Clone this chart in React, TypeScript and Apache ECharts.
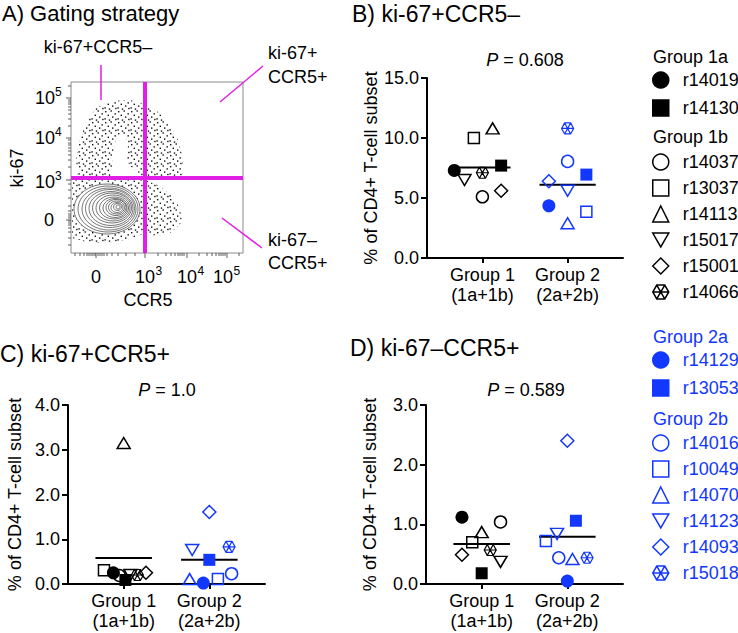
import React, { useEffect, useRef } from "react";
import * as echarts from "echarts";

const FONT = '"Liberation Sans", Arial, Helvetica, sans-serif';
const BLACK = "#000000";
const BLUE = "#1237ff";
const MAGENTA = "#e11ee6";

// Subjects (legend order)
const subjects = [
  "r14019", "r14130", "r14037", "r13037", "r14113", "r15017", "r15001", "r14066",
  "r14129", "r13053", "r14016", "r10049", "r14070", "r14123", "r14093", "r15018",
];
const subjectMarker = [
  "filledCircle", "filledSquare", "circle", "square", "triangle", "downTriangle", "diamond", "hexStar",
  "filledCircle", "filledSquare", "circle", "square", "triangle", "downTriangle", "diamond", "hexStar",
];
const group1a = ["r14019", "r14130"];
const group1b = ["r14037", "r13037", "r14113", "r15017", "r15001", "r14066"];
const group2a = ["r14129", "r13053"];
const group2b = ["r14016", "r10049", "r14070", "r14123", "r14093", "r15018"];

const groupCenters = [1, 2];
const groupLabels = ["Group 1\n(1a+1b)", "Group 2\n(2a+2b)"];

// Panel B: ki-67+CCR5-
const panelBValues = [7.3, 7.7, 5.1, 10.0, 10.8, 6.5, 5.6, 7.1, 4.35, 6.95, 8.05, 3.85, 2.9, 5.6, 6.4, 10.8];
const panelBJitter = [-0.33, 0.22, 0, -0.1, 0.12, -0.21, 0.22, 0, -0.22, 0.22, 0, 0.22, 0, 0, -0.22, 0];
const panelBMeans = [7.55, 6.1];

// Panel C: ki-67+CCR5+
const panelCValues = [0.25, 0.09, 0.19, 0.31, 3.15, 0.2, 0.25, 0.2, 0.02, 0.54, 0.23, 0.11, 0.11, 0.76, 1.61, 0.83];
const panelCJitter = [-0.12, 0.02, -0.05, -0.23, 0, 0.08, 0.26, 0.16, -0.07, 0, 0.26, 0.1, -0.23, -0.2, 0, 0.23];
const panelCMeans = [0.58, 0.54];

// Panel D: ki-67-CCR5+
const panelDValues = [1.12, 0.18, 1.04, 0.7, 0.87, 0.37, 0.49, 0.57, 0.05, 1.06, 0.44, 0.72, 0.42, 0.84, 2.4, 0.44];
const panelDJitter = [-0.23, 0, 0.22, -0.11, 0, 0.22, -0.23, 0.1, 0, 0.1, -0.1, -0.25, 0.06, -0.12, 0, 0.23];
const panelDMeans = [0.67, 0.79];

const pValues = ["0.608", "1.0", "0.589"];
const yMaxes = [15, 4, 3];
const yIntervals = [5, 1, 1];

const HEX_STAR = "path://M20,10L15,18.66L5,18.66L0,10L5,1.34L15,1.34ZM0,10L20,10M5,1.34L15,18.66M15,1.34L5,18.66";
const DOWN_TRI = "path://M0,0L20,0L10,17.32Z";

const markers: Record<string, { symbol: string; size: number | number[]; filled: boolean; bw: number }> = {
  filledCircle: { symbol: "circle", size: 13, filled: true, bw: 0 },
  filledSquare: { symbol: "rect", size: 12, filled: true, bw: 0 },
  circle: { symbol: "circle", size: 12, filled: false, bw: 1.5 },
  square: { symbol: "rect", size: 11, filled: false, bw: 1.5 },
  triangle: { symbol: "triangle", size: [13, 11], filled: false, bw: 1.5 },
  downTriangle: { symbol: DOWN_TRI, size: [13, 11], filled: false, bw: 1.5 },
  diamond: { symbol: "diamond", size: [13, 13], filled: false, bw: 1.5 },
  hexStar: { symbol: HEX_STAR, size: [12, 11], filled: false, bw: 1.2 },
};

const STIPPLE =
  "data:image/svg+xml;charset=utf-8," +
  encodeURIComponent(
    "<svg xmlns='http://www.w3.org/2000/svg' width='13' height='11'>" +
      "<rect x='1' y='1' width='1.4' height='1.4' fill='#111'/>" +
      "<rect x='6.5' y='0.3' width='1.4' height='1.4' fill='#111'/>" +
      "<rect x='10.5' y='3.2' width='1.4' height='1.4' fill='#111'/>" +
      "<rect x='3.6' y='4.6' width='1.4' height='1.4' fill='#111'/>" +
      "<rect x='8' y='6.4' width='1.4' height='1.4' fill='#111'/>" +
      "<rect x='0.4' y='8.2' width='1.4' height='1.4' fill='#111'/>" +
      "<rect x='11.2' y='8.8' width='1.4' height='1.4' fill='#111'/>" +
      "<rect x='4.8' y='9.4' width='1.4' height='1.4' fill='#111'/>" +
      "</svg>"
  );

function txt(x: number, y: number, text: string, o: any = {}) {
  return {
    type: "text",
    x,
    y,
    rotation: o.rot || 0,
    silent: true,
    z: 50,
    style: {
      text,
      fontFamily: FONT,
      fontSize: o.size || 18,
      fill: o.color || BLACK,
      align: o.align || "left",
      verticalAlign: o.va || "middle",
      fontStyle: o.italic ? "italic" : "normal",
      rich: o.rich,
    },
  };
}

function pow10(x: number, y: number, exp: string, anchor: "center" | "right") {
  const els: any[] = [];
  if (anchor === "center") {
    els.push(txt(x, y, "10", { align: "center" }));
    els.push(txt(x + 10.5, y - 6, exp, { size: 12, align: "left" }));
  } else {
    els.push(txt(x - 7, y, "10", { align: "right" }));
    els.push(txt(x - 7, y - 6, exp, { size: 12, align: "left" }));
  }
  return els;
}

function line(x1: number, y1: number, x2: number, y2: number, stroke: string, lw: number) {
  return { type: "line", silent: true, z: 40, shape: { x1, y1, x2, y2 }, style: { stroke, lineWidth: lw } };
}

// Contour levels for the density plot in panel A (cx, cy, rx, ry)
const contourLevels = [
  [107, 209, 33, 25], [108, 209, 30, 23], [109, 209, 27, 21], [110, 208.5, 24.5, 19],
  [111, 208.5, 22, 17], [112, 208, 19.5, 15], [113, 208, 17, 13], [114, 208, 14.5, 11],
  [115, 208, 12, 9.5], [116, 207.5, 10, 8], [116.5, 207.5, 8, 6.5], [117, 207.5, 6, 5],
  [117.5, 207, 4, 3.5], [118, 207, 2, 2],
];

function panelA(): any[] {
  const els: any[] = [];
  const stip = { image: STIPPLE, repeat: "repeat", imageWidth: 13, imageHeight: 11 };
  const poly = (pts: number[][], fill: any) => ({ type: "polygon", silent: true, z: 10, shape: { points: pts }, style: { fill, stroke: null } });
  els.push(poly([[78, 178], [76, 160], [80, 140], [86, 122], [96, 108], [112, 101], [130, 100], [145, 104], [158, 112], [170, 124], [178, 140], [183, 158], [182, 178]], stip));
  els.push(poly([[112, 178], [112, 162], [114, 148], [116, 138], [121, 133], [126, 136], [128, 146], [126, 158], [130, 166], [138, 172], [142, 178]], "#ffffff"));
  els.push(poly([[72, 180], [72, 238], [90, 243], [115, 242], [135, 238], [146, 232], [146, 180]], stip));
  els.push(poly([[145, 180], [160, 186], [172, 196], [180, 208], [182, 222], [172, 232], [158, 236], [145, 234]], stip));
  contourLevels.forEach((c, i) => {
    els.push({ type: "ellipse", silent: true, z: 12, shape: { cx: c[0], cy: c[1], rx: c[2], ry: c[3] }, style: { fill: i === 0 ? "#ffffff" : "none", stroke: "#3a3a3a", lineWidth: 0.7 } });
  });
  els.push({ type: "rect", silent: true, z: 20, shape: { x: 71, y: 82, width: 172, height: 171 }, style: { fill: "none", stroke: "#8a8a8a", lineWidth: 1 } });
  const bt = [75, 80, 84, 87, 89, 91, 93, 95, 96, 98, 100, 102, 104, 107, 112, 118, 126, 135, 145, 158, 166, 171, 175, 178, 180, 182, 184, 187, 199, 207, 212, 216, 219, 221, 223, 225, 227, 239];
  bt.forEach((x) => {
    const major = x === 96 || x === 145 || x === 187 || x === 227;
    els.push(line(x, 253, x, 253 + (major ? 5 : 3), "#333", 0.8));
  });
  const lt = [245, 238, 232, 228, 225, 223, 221, 220, 218, 216, 214, 211, 206, 198, 190, 184, 180, 167, 160, 155, 151, 148, 145, 143, 140, 138, 126, 119, 114, 110, 107, 104, 102, 100, 98, 86];
  lt.forEach((y) => {
    const major = y === 98 || y === 138 || y === 180 || y === 220;
    els.push(line(71, y, 71 - (major ? 5 : 3), y, "#333", 0.8));
  });
  els.push(line(145, 82, 145, 253, MAGENTA, 4));
  els.push(line(71, 178, 243, 178, MAGENTA, 4));
  els.push(line(101, 65, 101, 100, MAGENTA, 1.5));
  els.push(line(220, 102, 263, 66, MAGENTA, 1.5));
  els.push(line(222, 218, 262, 248, MAGENTA, 1.5));
  els.push(txt(98, 47, "ki-67+CCR5\u2013", { align: "center" }));
  els.push(txt(268, 53, "ki-67+"));
  els.push(txt(268, 77, "CCR5+"));
  els.push(txt(268, 240, "ki-67\u2013"));
  els.push(txt(268, 263, "CCR5+"));
  els.push(...pow10(62, 98, "5", "right"));
  els.push(...pow10(62, 138, "4", "right"));
  els.push(...pow10(62, 182, "3", "right"));
  els.push(txt(54, 220, "0", { align: "right" }));
  els.push(txt(96, 277, "0", { align: "center" }));
  els.push(...pow10(145, 277, "3", "center"));
  els.push(...pow10(187, 277, "4", "center"));
  els.push(...pow10(223, 277, "5", "center"));
  els.push(txt(148, 300, "CCR5", { align: "center" }));
  els.push(txt(17, 168, "ki-67", { align: "center", rot: Math.PI / 2 }));
  return els;
}

const App: React.FC = () => {
  const ref = useRef<HTMLDivElement>(null);
  useEffect(() => {
    if (!ref.current) return;
    const chart = echarts.init(ref.current, null, { renderer: "svg" });

    const panels = [
      { values: panelBValues, jitter: panelBJitter, means: panelBMeans },
      { values: panelCValues, jitter: panelCJitter, means: panelCMeans },
      { values: panelDValues, jitter: panelDJitter, means: panelDMeans },
    ];
    const grids = [
      { left: 427, top: 78, width: 196, height: 180 },
      { left: 68, top: 405, width: 197, height: 179 },
      { left: 426, top: 405, width: 197, height: 179 },
    ];

    const series: any[] = [];
    panels.forEach((p, pi) => {
      p.means.forEach((mean, g) => {
        series.push({
          type: "line",
          name: "mean" + pi + g,
          xAxisIndex: pi,
          yAxisIndex: pi,
          data: [[groupCenters[g] - 0.33, mean], [groupCenters[g] + 0.33, mean]],
          symbol: "none",
          lineStyle: { color: BLACK, width: 2 },
          z: 2,
          silent: true,
        });
      });
      subjects.forEach((s, si) => {
        const g = si < 8 ? 0 : 1;
        const m = markers[subjectMarker[si]];
        const color = si < 8 ? BLACK : BLUE;
        series.push({
          type: "scatter",
          name: s,
          xAxisIndex: pi,
          yAxisIndex: pi,
          data: [[groupCenters[g] + p.jitter[si], p.values[si]]],
          symbol: m.symbol,
          symbolSize: m.size,
          symbolKeepAspect: false,
          itemStyle: m.filled
            ? { color, borderColor: color, borderWidth: 0, opacity: 1 }
            : { color: "rgba(255,255,255,0)", borderColor: color, borderWidth: m.bw, opacity: 1 },
          z: 3,
          silent: true,
        });
      });
    });

    const xAxes = grids.map((_, i) => ({
      type: "value",
      gridIndex: i,
      min: 0.35,
      max: 2.65,
      splitLine: { show: false },
      axisLine: { show: true, onZero: false, lineStyle: { color: BLACK, width: 2 } },
      axisTick: { show: true, customValues: groupCenters, length: 5, lineStyle: { color: BLACK, width: 2 } },
      axisLabel: {
        show: true,
        customValues: groupCenters,
        formatter: (v: number) => groupLabels[Math.round(v) - 1] || "",
        fontSize: 18,
        lineHeight: 20,
        color: BLACK,
        fontFamily: FONT,
        margin: 7,
      },
    }));
    const yAxes = grids.map((_, i) => ({
      type: "value",
      gridIndex: i,
      min: 0,
      max: yMaxes[i],
      interval: yIntervals[i],
      splitLine: { show: false },
      axisLine: { show: true, lineStyle: { color: BLACK, width: 2 } },
      axisTick: { show: true, length: 6, lineStyle: { color: BLACK, width: 2 } },
      axisLabel: { fontSize: 18, color: BLACK, fontFamily: FONT, margin: 8, formatter: (v: number) => v.toFixed(1) },
      name: "% of CD4+ T-cell subset",
      nameLocation: "middle",
      nameGap: i === 1 ? 44 : 47,
      nameTextStyle: { fontSize: 18, color: BLACK, fontFamily: FONT },
    }));

    const legendBase = {
      orient: "vertical",
      itemWidth: 16,
      itemHeight: 16,
      padding: 0,
      selectedMode: false,
      itemStyle: { borderWidth: 1.5 },
    };
    const lt = (color: string) => ({ fontSize: 18, lineHeight: 18, color, fontFamily: FONT, padding: [0, 0, 0, 9] });
    const legends = [
      { ...legendBase, data: group1a, left: 652, top: 71, itemGap: 10, textStyle: lt(BLACK) },
      { ...legendBase, data: group1b, left: 652, top: 153, itemGap: 8, textStyle: lt(BLACK) },
      { ...legendBase, data: group2a, left: 652, top: 351, itemGap: 10, textStyle: lt(BLUE) },
      { ...legendBase, data: group2b, left: 652, top: 434, itemGap: 8, textStyle: lt(BLUE) },
    ];

    const pRich = { i: { fontStyle: "italic", fontSize: 18, fontFamily: FONT, fill: BLACK } };
    const graphics: any[] = [
      ...panelA(),
      txt(2, 13, "A) Gating strategy", { size: 22 }),
      txt(352, 14, "B) ki-67+CCR5\u2013", { size: 23 }),
      txt(0, 354, "C) ki-67+CCR5+", { size: 23 }),
      txt(350, 348, "D) ki-67\u2013CCR5+", { size: 23 }),
      txt(525, 60, "{i|P} = " + pValues[0], { align: "center", rich: pRich }),
      txt(167, 390, "{i|P} = " + pValues[1], { align: "center", rich: pRich }),
      txt(526, 390, "{i|P} = " + pValues[2], { align: "center", rich: pRich }),
      txt(653, 57, "Group 1a"),
      txt(653, 137, "Group 1b"),
      txt(653, 337, "Group 2a", { color: BLUE }),
      txt(653, 419, "Group 2b", { color: BLUE }),
    ];

    chart.setOption({
      animation: false,
      backgroundColor: "#ffffff",
      textStyle: { fontFamily: FONT },
      grid: grids.map((g) => ({ ...g, containLabel: false })),
      xAxis: xAxes,
      yAxis: yAxes,
      legend: legends,
      series,
      graphic: { elements: graphics },
    });
    return () => chart.dispose();
  }, []);
  return <div ref={ref} style={{ position: "absolute", left: 0, top: 0, width: 738, height: 633 }} />;
};

export default App;
